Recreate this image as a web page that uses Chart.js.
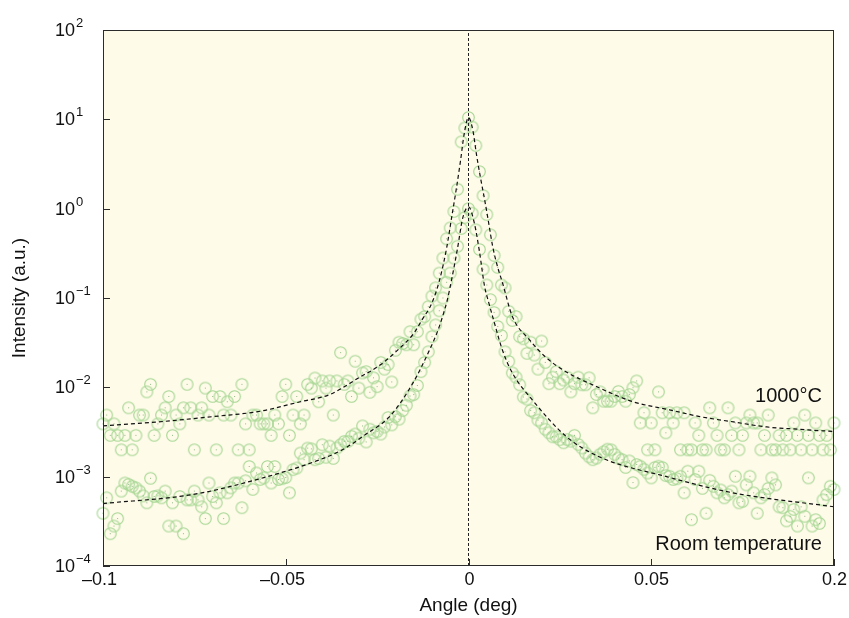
<!DOCTYPE html>
<html>
<head>
<meta charset="utf-8">
<script src="https://cdn.jsdelivr.net/npm/chart.js@4/dist/chart.umd.min.js"></script>
<style>
html, body { margin: 0; padding: 0; background: #fff; }
</style>
</head>
<body>
<canvas id="graph" width="849" height="618"></canvas>
<script>
// scan angles (deg), shared by both measurements
const angles = [
  -0.100,-0.099,-0.098,-0.097,-0.096,-0.095,-0.094,-0.093,-0.092,-0.091,
  -0.090,-0.089,-0.088,-0.087,-0.086,-0.085,-0.084,-0.083,-0.082,-0.081,
  -0.080,-0.079,-0.078,-0.077,-0.076,-0.075,-0.074,-0.073,-0.072,-0.071,
  -0.070,-0.069,-0.068,-0.067,-0.066,-0.065,-0.064,-0.063,-0.062,-0.061,
  -0.060,-0.059,-0.058,-0.057,-0.056,-0.055,-0.054,-0.053,-0.052,-0.051,
  -0.050,-0.049,-0.048,-0.047,-0.046,-0.045,-0.044,-0.043,-0.042,-0.041,
  -0.040,-0.039,-0.038,-0.037,-0.036,-0.035,-0.034,-0.033,-0.032,-0.031,
  -0.030,-0.029,-0.028,-0.027,-0.026,-0.025,-0.024,-0.023,-0.022,-0.021,
  -0.020,-0.019,-0.018,-0.017,-0.016,-0.015,-0.014,-0.013,-0.012,-0.011,
  -0.010,-0.009,-0.008,-0.007,-0.006,-0.005,-0.004,-0.003,-0.002,-0.001,
  0.000,0.001,0.002,0.003,0.004,0.005,0.006,0.007,0.008,0.009,
  0.010,0.011,0.012,0.013,0.014,0.015,0.016,0.017,0.018,0.019,
  0.020,0.021,0.022,0.023,0.024,0.025,0.026,0.027,0.028,0.029,
  0.030,0.031,0.032,0.033,0.034,0.035,0.036,0.037,0.038,0.039,
  0.040,0.041,0.042,0.043,0.044,0.045,0.046,0.047,0.048,0.049,
  0.050,0.051,0.052,0.053,0.054,0.055,0.056,0.057,0.058,0.059,
  0.060,0.061,0.062,0.063,0.064,0.065,0.066,0.067,0.068,0.069,
  0.070,0.071,0.072,0.073,0.074,0.075,0.076,0.077,0.078,0.079,
  0.080,0.081,0.082,0.083,0.084,0.085,0.086,0.087,0.088,0.089,
  0.090,0.091,0.092,0.093,0.094,0.095,0.096,0.097,0.098,0.099,
  0.100
];

// 1000°C measurement
const intensity1000 = [
  0.0039,0.0049,0.0029,0.0039,0.0029,0.0020,0.0029,0.0059,0.0020,0.0029,
  0.0049,0.0049,0.0089,0.0108,0.0029,0.0039,0.0049,0.0059,0.0079,0.0029,
  0.0049,0.0039,0.0059,0.0108,0.0059,0.0020,0.0049,0.0059,0.0098,0.0049,
  0.0079,0.0020,0.0079,0.0049,0.0069,0.0049,0.0079,0.0020,0.0108,0.0039,
  0.0020,0.0049,0.0049,0.0039,0.0039,0.0039,0.0029,0.0049,0.0039,0.0079,
  0.0108,0.0029,0.0049,0.0079,0.0039,0.0049,0.0108,0.0098,0.0127,0.0069,
  0.0118,0.0098,0.0118,0.0049,0.0118,0.0245,0.0108,0.0118,0.0079,0.0196,
  0.0098,0.0145,0.0150,0.0088,0.0128,0.0102,0.0190,0.0160,0.0180,0.0115,
  0.0260,0.0320,0.0310,0.0300,0.0420,0.0300,0.0420,0.0580,0.0620,0.0800,
  0.105,0.130,0.190,0.280,0.460,0.610,0.930,1.65,5.6,8.0,
  10.5,8.2,5.1,2.6,1.4,0.86,0.51,0.30,0.22,0.14,
  0.13,0.071,0.056,0.062,0.037,0.035,0.024,0.032,0.023,0.016,
  0.033,0.019,0.011,0.013,0.015,0.011,0.0121,0.013,0.0089,0.011,
  0.013,0.0107,0.0107,0.0128,0.0059,0.0083,0.0089,0.0070,0.0070,0.0070,
  0.0079,0.0090,0.0079,0.0070,0.0083,0.0099,0.0118,0.0040,0.0052,0.0020,
  0.0040,0.0020,0.0089,0.0052,0.0031,0.0052,0.0040,0.0052,0.0020,0.0052,
  0.0020,0.0020,0.0040,0.0029,0.0020,0.0020,0.0059,0.0040,0.0029,0.0020,
  0.0020,0.0059,0.0029,0.0040,0.0020,0.0029,0.0040,0.0049,0.0040,0.0040,
  0.0020,0.0029,0.0049,0.0020,0.0020,0.0029,0.0020,0.0029,0.0020,0.0040,
  0.0029,0.0020,0.0049,0.0029,0.0020,0.0040,0.0029,0.0020,0.0029,0.0020,
  0.0040
];

// room temperature measurement
const intensityRoom = [
  0.00039,0.00058,0.00023,0.00028,0.00034,0.00069,0.00085,0.00082,0.00078,0.00075,
  0.00069,0.00061,0.00051,0.00096,0.00060,0.00061,0.00058,0.00069,0.00028,0.00051,
  0.00028,0.00060,0.00023,0.00055,0.00055,0.00069,0.00055,0.00046,0.00034,0.00085,
  0.00060,0.00051,0.00066,0.00034,0.00066,0.00075,0.00085,0.00085,0.00045,0.00090,
  0.0013,0.00072,0.0011,0.00093,0.00097,0.0013,0.00085,0.0013,0.00093,0.00095,
  0.00098,0.00066,0.0012,0.00125,0.00184,0.00155,0.00209,0.00205,0.00155,0.0016,
  0.00228,0.00165,0.0022,0.0016,0.0021,0.00228,0.00248,0.00248,0.00283,0.0030,
  0.0027,0.0037,0.00245,0.0034,0.0031,0.0032,0.0030,0.0036,0.0046,0.0038,
  0.0047,0.0044,0.0055,0.0063,0.0080,0.0083,0.0105,0.015,0.019,0.025,
  0.037,0.05,0.072,0.10,0.15,0.19,0.28,0.38,0.60,0.80,
  1.0,0.89,0.58,0.35,0.21,0.14,0.096,0.069,0.048,0.038,
  0.025,0.0195,0.0145,0.013,0.0107,0.0078,0.0074,0.0055,0.0052,0.0043,
  0.0040,0.0034,0.0031,0.0028,0.0028,0.0026,0.0024,0.0026,0.0025,0.0029,
  0.0023,0.0021,0.00184,0.00167,0.00155,0.00162,0.00178,0.0019,0.00203,0.0020,
  0.00178,0.00162,0.00155,0.00127,0.0015,0.00086,0.00137,0.00131,0.00121,0.0011,
  0.00097,0.00127,0.00131,0.00127,0.00103,0.00101,0.00093,0.00095,0.00101,0.00066,
  0.00115,0.00033,0.00093,0.00115,0.00074,0.00039,0.00091,0.00078,0.00066,0.00071,
  0.00058,0.00063,0.00069,0.00101,0.00051,0.00053,0.00081,0.00101,0.00066,0.00039,
  0.00058,0.00063,0.00074,0.00097,0.00081,0.00046,0.00045,0.00032,0.00036,0.00043,
  0.00028,0.00046,0.00036,0.00097,0.00028,0.00033,0.00030,0.00055,0.00063,0.00078,
  0.00072
];

// fitted curves
const fit1000Angle = [-0.1, -0.085, -0.07, -0.057, -0.046, -0.038, -0.03, -0.024, -0.019, -0.015, -0.0126, -0.01, -0.0079, -0.006, -0.0045, -0.0033, -0.0022, -0.0012, 0,
  0.0012, 0.0022, 0.0033, 0.0044, 0.0055, 0.0066, 0.008, 0.0093, 0.012, 0.0167, 0.021, 0.0258, 0.035, 0.045, 0.055, 0.0633, 0.0725, 0.0816, 0.09, 0.1];
const fit1000 = [0.0037, 0.0041, 0.0047, 0.0054, 0.0069, 0.0083, 0.0128, 0.018, 0.027, 0.040, 0.058, 0.088, 0.16, 0.36, 0.85, 1.7, 3.4, 6.8, 10.5,
  7.5, 4.0, 2.2, 1.27, 0.70, 0.38, 0.22, 0.148, 0.062, 0.034, 0.022, 0.0157, 0.0102, 0.0069, 0.0056, 0.0047, 0.0041, 0.0036, 0.0034, 0.0032];

const fitRoomAngle = [-0.1, -0.0756, -0.06, -0.0416, -0.0345, -0.028, -0.0216, -0.0153, -0.0107, -0.0085, -0.0071, -0.0058, -0.0045, -0.003, -0.0016, 0,
  0.0016, 0.003, 0.0044, 0.0055, 0.0066, 0.0093, 0.012, 0.0175, 0.0268, 0.0359, 0.0542, 0.0723, 0.1];
const fitRoom = [0.0005, 0.00063, 0.00088, 0.0015, 0.002, 0.003, 0.0047, 0.011, 0.026, 0.042, 0.062, 0.095, 0.17, 0.36, 0.78, 1.05,
  0.69, 0.33, 0.135, 0.09, 0.062, 0.026, 0.0145, 0.0072, 0.0028, 0.00166, 0.001, 0.00066, 0.00046];

const xTickValues = [-0.1, -0.05, 0, 0.05, 0.1];
const xTickLabels = ['\u20130.1', '\u20130.05', '0', '0.05', '0.2'];
const yTickValues = [1e-4, 1e-3, 1e-2, 1e-1, 1, 10, 100];
const yTickExps = ['\u22124', '\u22123', '\u22122', '\u22121', '0', '1', '2'];

const markerColor = 'rgb(165,214,146)';
const font = '"Liberation Sans", Arial, Helvetica, sans-serif';

function toPoints(xs, ys) {
  return xs.map((x, i) => ({ x: x, y: ys[i] }));
}

function makeMarker() {
  const c = document.createElement('canvas');
  c.width = 15;
  c.height = 15;
  const g = c.getContext('2d');
  g.strokeStyle = markerColor;
  g.lineWidth = 1.1;
  g.beginPath();
  g.arc(7.5, 7.5, 5.8, 0, Math.PI * 2);
  g.stroke();
  g.fillStyle = 'rgba(120,170,110,0.8)';
  g.fillRect(7, 7, 1, 1);
  return c;
}

const framePlugin = {
  id: 'frame',
  beforeDatasetsDraw(chart) {
    const { ctx, chartArea: a } = chart;
    ctx.save();
    ctx.fillStyle = '#fefbe9';
    ctx.fillRect(a.left, a.top, a.right - a.left, a.bottom - a.top);
    ctx.restore();
  },
  afterDraw(chart) {
    const { ctx, chartArea: a } = chart;
    const xs = chart.scales.x, ys = chart.scales.y;
    ctx.save();
    ctx.strokeStyle = '#2b2b2b';
    ctx.lineWidth = 1;
    ctx.strokeRect(a.left + 0.5, a.top + 0.5, a.right - a.left - 1, a.bottom - a.top - 1);

    ctx.fillStyle = '#111';
    ctx.font = '18px ' + font;
    ctx.textAlign = 'center';
    ctx.textBaseline = 'top';
    xTickValues.forEach((v, i) => {
      const px = Math.round(xs.getPixelForValue(v)) + 0.5;
      ctx.beginPath();
      ctx.moveTo(px, a.bottom);
      ctx.lineTo(px, a.bottom - 7);
      ctx.stroke();
      ctx.fillText(xTickLabels[i], px - (i < 2 ? 4 : 0), a.bottom + 5);
    });

    ctx.textAlign = 'left';
    ctx.textBaseline = 'middle';
    yTickValues.forEach((v, i) => {
      const py = Math.round(ys.getPixelForValue(v)) + 0.5;
      ctx.beginPath();
      ctx.moveTo(a.left, py);
      ctx.lineTo(a.left + 7, py);
      ctx.stroke();
      ctx.font = '18px ' + font;
      ctx.fillText('10', 55, py + 1);
      const w = ctx.measureText('10').width;
      ctx.font = '13px ' + font;
      ctx.fillText(yTickExps[i], 55 + w + 1, py - 7);
    });

    ctx.font = '19px ' + font;
    ctx.textAlign = 'center';
    ctx.textBaseline = 'middle';
    ctx.fillText('Angle (deg)', (a.left + a.right) / 2, 606);
    ctx.save();
    ctx.translate(20, (a.top + a.bottom) / 2);
    ctx.rotate(-Math.PI / 2);
    ctx.fillText('Intensity (a.u.)', 0, 0);
    ctx.restore();

    ctx.font = '20px ' + font;
    ctx.textAlign = 'right';
    ctx.fillText('1000\u00b0C', xs.getPixelForValue(0.0967), ys.getPixelForValue(0.0079));
    ctx.fillText('Room temperature', xs.getPixelForValue(0.0967), ys.getPixelForValue(0.000175));
    ctx.restore();
  }
};

const marker = makeMarker();
const ctx = document.getElementById('graph').getContext('2d');
new Chart(ctx, {
  type: 'scatter',
  data: {
    datasets: [
      {
        label: 'Fit 1000\u00b0C',
        data: toPoints(fit1000Angle, fit1000),
        showLine: true,
        borderColor: '#111',
        borderWidth: 1.2,
        borderDash: [4, 3],
        pointRadius: 0,
        cubicInterpolationMode: 'monotone',
        order: 0
      },
      {
        label: 'Fit room temperature',
        data: toPoints(fitRoomAngle, fitRoom),
        showLine: true,
        borderColor: '#111',
        borderWidth: 1.2,
        borderDash: [4, 3],
        pointRadius: 0,
        cubicInterpolationMode: 'monotone',
        order: 0
      },
      {
        label: 'zero',
        data: [{ x: 0, y: 1e-4 }, { x: 0, y: 100 }],
        showLine: true,
        borderColor: '#222',
        borderWidth: 1,
        borderDash: [3, 2],
        pointRadius: 0,
        order: 0
      },
      {
        label: '1000\u00b0C',
        data: toPoints(angles, intensity1000),
        pointStyle: marker,
        pointRadius: 6,
        clip: false,
        order: 1
      },
      {
        label: 'Room temperature',
        data: toPoints(angles, intensityRoom),
        pointStyle: marker,
        pointRadius: 6,
        clip: false,
        order: 1
      }
    ]
  },
  options: {
    responsive: false,
    animation: false,
    layout: { padding: { left: 103, right: 15, top: 30, bottom: 52 } },
    plugins: { legend: { display: false }, tooltip: { enabled: false } },
    scales: {
      x: { type: 'linear', min: -0.1, max: 0.1, display: false },
      y: { type: 'logarithmic', min: 1e-4, max: 100, display: false }
    }
  },
  plugins: [framePlugin]
});
</script>
</body>
</html>
